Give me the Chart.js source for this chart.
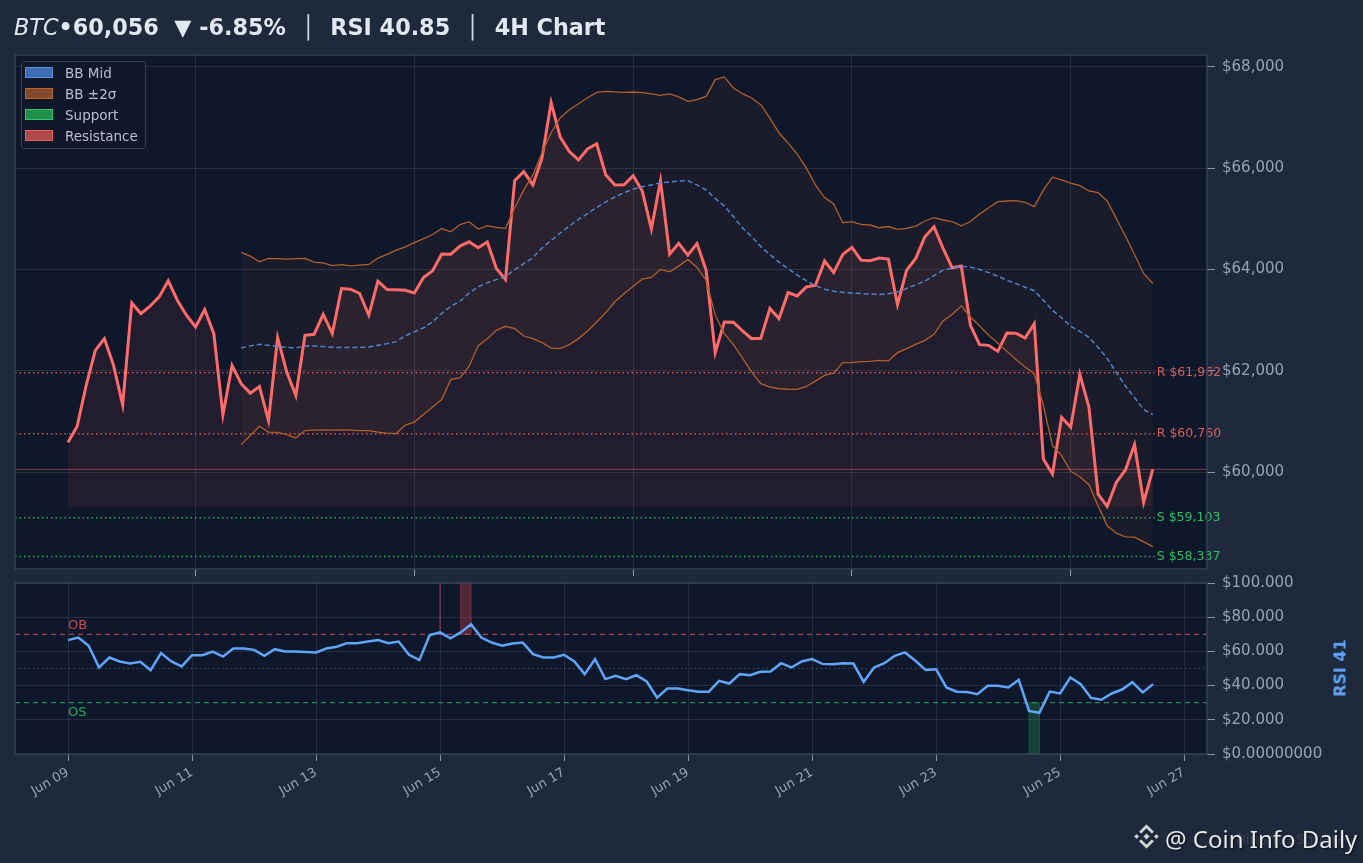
<!DOCTYPE html>
<html>
<head>
<meta charset="utf-8">
<script src="https://cdn.jsdelivr.net/npm/chart.js@4.4.1/dist/chart.umd.min.js"></script>
<style>
  html, body { margin: 0; padding: 0; background: #1e293b; width: 1363px; height: 863px; overflow: hidden; font-family: "DejaVu Sans", sans-serif; }
  #priceWrap { position: absolute; left: 0; top: 0; width: 1363px; height: 585px; }
  #rsiWrap { position: absolute; left: 0; top: 567px; width: 1363px; height: 296px; }
  #title { position: absolute; left: 14px; top: 16px; font-size: 22.3px; line-height: 22px; font-weight: bold; color: #e2e8f0; white-space: pre; }
  #title .sym { font-style: italic; font-weight: normal; }
  #title .sep { font-weight: normal; color: #cbd5e1; }
  #legend { position: absolute; left: 21px; top: 61px; width: 123px; height: 86px; border: 1.5px solid #334155; border-radius: 3px; background: rgba(15, 23, 42, 0.85); }
  .lg-item { position: absolute; left: 3px; height: 14px; font-size: 13.5px; line-height: 14px; color: #b6c0ce; white-space: nowrap; }
  .lg-sw { position: absolute; left: 0; top: 1px; width: 26px; height: 9px; border: 1.5px solid; }
  .lg-tx { position: absolute; left: 40px; top: 0; }
  #rsiLabel { position: absolute; left: 1340px; top: 668px; transform: translate(-50%, -50%) rotate(-90deg); font-size: 16px; font-weight: bold; color: #60a5fa; white-space: nowrap; }
  #wmark { position: absolute; left: 1165px; top: 827px; font-family: "Noto Sans", sans-serif; font-size: 24px; line-height: 24px; color: #e5e7eb; white-space: nowrap; text-shadow: 1px 1px 2px rgba(0,0,0,0.7); }
  #wmark2 { position: absolute; left: 1236px; top: 831px; font-family: "Noto Sans", sans-serif; font-size: 15px; line-height: 15px; color: rgba(148,163,184,0.18); white-space: nowrap; }
  #logo { position: absolute; left: 1131px; top: 821px; width: 31px; height: 31px; }
</style>
</head>
<body>
<div id="priceWrap"><canvas id="priceChart"></canvas></div>
<div id="rsiWrap"><canvas id="rsiChart"></canvas></div>
<div id="title"><span class="sym">BTC</span>•60,056  ▼ -6.85%  <span class="sep">│</span>  RSI 40.85  <span class="sep">│</span>  4H Chart</div>
<div id="legend"></div>
<div id="rsiLabel">RSI 41</div>
<div id="wmark2">Binance Square</div>
<svg id="logo" viewBox="0 0 32 32">
  <g fill="#d4d8de" stroke="#1a2230" stroke-width="0.8">
    <path d="M16 3 L24 11 L21.5 13.5 L16 8 L10.5 13.5 L8 11 Z"/>
    <path d="M16 29 L24 21 L21.5 18.5 L16 24 L10.5 18.5 L8 21 Z"/>
    <path d="M16 12.5 L19.5 16 L16 19.5 L12.5 16 Z"/>
    <path d="M3 16 L5.8 13.2 L8.6 16 L5.8 18.8 Z"/>
    <path d="M23.4 16 L26.2 13.2 L29 16 L26.2 18.8 Z"/>
  </g>
</svg>
<div id="wmark">@ Coin Info Daily</div>

<script>
// ---------- DATA ----------
// price closes, one value per bar
const prices = [
  60590, 60900, 61711, 62403, 62635, 62107, 61329, 63339, 63129, 63274,
  63458, 63774, 63392, 63096, 62864, 63208, 62734, 61131, 62107, 61745,
  61559, 61691, 61019, 62654, 61974, 61513, 62700, 62720, 63115, 62734,
  63624, 63610, 63525, 63096, 63768, 63604, 63600, 63590, 63537, 63841,
  63972, 64302, 64300, 64460, 64545, 64427, 64540, 64019, 63802, 65752,
  65930, 65667, 66195, 67295, 66610, 66326, 66161, 66379, 66478, 65865,
  65667, 65670, 65851, 65548, 64797, 65752, 64302, 64514, 64282, 64510,
  63986, 62358, 62963, 62960, 62785, 62635, 62640, 63228, 63030, 63545,
  63477, 63655, 63689, 64164, 63940, 64296, 64435, 64183, 64170, 64223,
  64203, 63307, 63986, 64217, 64644, 64842, 64415, 64031, 64065, 62898,
  62516, 62502, 62383, 62745, 62740, 62647, 62931, 60261, 59964, 61084,
  60886, 61929, 61282, 59569, 59324, 59798, 60044, 60544, 59403, 60056
];

// Bollinger bands start at bar 19 (20-bar window)
const bbStart = 19;
const bbUpper = [
  64336, 64263, 64150, 64217, 64213, 64203, 64213, 64217, 64144, 64130,
  64075, 64094, 64071, 64085, 64098, 64223, 64296, 64381, 64445, 64530,
  64609, 64688, 64807, 64743, 64886, 64941, 64797, 64862, 64830, 64810,
  65212, 65568, 65865, 66300, 66696, 66992, 67150, 67269, 67388, 67493,
  67513, 67501, 67493, 67500, 67487, 67461, 67433, 67461, 67402, 67315,
  67348, 67414, 67744, 67797, 67580, 67467, 67382, 67249, 66986, 66696,
  66492, 66274, 65997, 65667, 65416, 65291, 64921, 64941, 64890, 64876,
  64822, 64846, 64791, 64810, 64856, 64955, 65020, 64975, 64941, 64862,
  64945, 65093, 65218, 65337, 65350, 65356, 65325, 65238, 65568, 65819,
  65766, 65701, 65653, 65548, 65515, 65350, 65008, 64658, 64296, 63920,
  63723
];
const bbMid = [
  62449, 62492, 62522, 62502, 62482, 62463, 62453, 62492, 62490, 62478,
  62463, 62459, 62457, 62463, 62469, 62502, 62536, 62575, 62690, 62769,
  62848, 62967, 63135, 63274, 63372, 63531, 63655, 63738, 63798, 63857,
  63996, 64114, 64233, 64421, 64573, 64718, 64856, 64985, 65103, 65222,
  65331, 65430, 65515, 65582, 65631, 65667, 65707, 65726, 65742, 65750,
  65667, 65568, 65400, 65252, 65044, 64816, 64648, 64451, 64292, 64144,
  64015, 63887, 63778, 63679, 63610, 63570, 63545, 63535, 63525, 63515,
  63507, 63521, 63556, 63624, 63699, 63768, 63877, 63986, 64025, 64061,
  64045, 64000, 63936, 63867, 63788, 63719, 63649, 63580, 63392, 63194,
  63046, 62878, 62779, 62660, 62463, 62245, 61968, 61701, 61474, 61236,
  61137
];
const bbLower = [
  60544, 60722, 60906, 60791, 60787, 60742, 60673, 60821, 60831, 60835,
  60831, 60835, 60831, 60821, 60820, 60791, 60771, 60762, 60930, 60989,
  61137, 61286, 61434, 61830, 61859, 62087, 62492, 62631, 62799, 62878,
  62832, 62686, 62635, 62556, 62449, 62437, 62516, 62635, 62785, 62963,
  63149, 63363, 63521, 63669, 63808, 63841, 64000, 63952, 64065, 64197,
  64039, 63788, 63096, 62734, 62516, 62251, 61974, 61745, 61677, 61646,
  61636, 61632, 61691, 61796, 61909, 61954, 62160, 62160, 62180, 62186,
  62205, 62196, 62358, 62437, 62522, 62601, 62720, 62983, 63115, 63280,
  63062, 62884, 62700, 62548, 62383, 62225, 62073, 61942, 61315, 60524,
  60326, 60016, 59911, 59753, 59337, 58942, 58797, 58724, 58720, 58625,
  58532
];

const currentPrice = 60056;
const resistance = [61962, 60760];
const support = [59103, 58337];

const priceTicks = [60000, 62000, 64000, 66000, 68000];
const priceGridBars = [14, 38, 62, 86, 110];

// RSI, 4H bars from Jun 09 00:00
const rsi = [
  66.6, 68.1, 63.3, 50.6, 56.4, 54.1, 52.9, 53.9, 49.0, 59.0,
  54.1, 51.2, 57.8, 57.8, 59.9, 57.0, 61.7, 61.7, 60.9, 57.4,
  61.3, 59.9, 59.9, 59.7, 59.4, 61.7, 62.7, 64.8, 64.8, 65.8,
  66.6, 64.8, 65.8, 58.0, 54.9, 69.6, 71.1, 67.7, 71.1, 75.9,
  68.1, 65.2, 63.3, 64.6, 65.2, 58.4, 56.4, 56.4, 58.0, 54.1,
  46.7, 55.5, 43.8, 45.7, 43.8, 46.1, 42.4, 33.0, 38.3, 38.3,
  37.3, 36.4, 36.4, 42.8, 41.2, 46.7, 46.1, 48.1, 48.2, 53.1,
  50.6, 54.1, 55.5, 52.7, 52.5, 53.1, 52.9, 42.2, 50.6, 53.1,
  57.4, 59.4, 54.5, 49.2, 49.6, 38.9, 36.4, 36.2, 35.0, 39.9,
  39.9, 38.9, 43.4, 25.2, 24.1, 36.5, 35.4, 44.7, 40.8, 32.8,
  31.7, 35.4, 37.7, 42.0, 36.0, 40.85
];
const rsiOB = 70, rsiOS = 30;
const rsiTicks = [0, 20, 40, 60, 80, 100];
const rsiTickLabels = ["$0.00000000", "$20.000", "$40.000", "$60.000", "$80.000", "$100.000"];
const dayTicks = [0, 2, 4, 6, 8, 10, 12, 14, 16, 18];
const dayLabels = ["Jun 09", "Jun 11", "Jun 13", "Jun 15", "Jun 17", "Jun 19", "Jun 21", "Jun 23", "Jun 25", "Jun 27"];

const legendItems = [
  { label: "BB Mid", fill: "#3d6db3", stroke: "#5b8fd8" },
  { label: "BB ±2σ", fill: "#86482a", stroke: "#b8652f" },
  { label: "Support", fill: "#1f8f4e", stroke: "#34c46a" },
  { label: "Resistance", fill: "#b04848", stroke: "#e26464" },
];

// ---------- STYLE ----------
const FONT = "DejaVu Sans";
const gridColor = "rgba(148,163,184,0.16)";
const plotBg = "#0f172a";
const tickText = "#94a3b8";

// ---------- LEGEND ----------
const legendEl = document.getElementById("legend");
legendItems.forEach((it, i) => {
  const row = document.createElement("div");
  row.className = "lg-item";
  row.style.top = (4 + i * 21) + "px";
  row.innerHTML = `<span class="lg-sw" style="background:${it.fill};border-color:${it.stroke}"></span><span class="lg-tx">${it.label}</span>`;
  legendEl.appendChild(row);
});

// ---------- PLUGINS ----------
const panelPlugin = {
  id: "panel",
  beforeDraw(chart) {
    const { ctx, chartArea: a } = chart;
    ctx.save();
    ctx.fillStyle = plotBg;
    ctx.fillRect(a.left, a.top, a.right - a.left, a.bottom - a.top);
    ctx.restore();
  },
  afterDraw(chart) {
    const { ctx, chartArea: a } = chart;
    ctx.save();
    ctx.strokeStyle = "#334155";
    ctx.lineWidth = 1.5;
    ctx.strokeRect(a.left, a.top, a.right - a.left, a.bottom - a.top);
    ctx.restore();
  },
};

function hLine(ctx, y, x0, x1, color, width, dash) {
  ctx.save();
  ctx.strokeStyle = color;
  ctx.lineWidth = width;
  ctx.setLineDash(dash);
  ctx.beginPath();
  ctx.moveTo(x0, y);
  ctx.lineTo(x1, y);
  ctx.stroke();
  ctx.restore();
}

const levelsPlugin = {
  id: "levels",
  beforeDatasetsDraw(chart) {
    const { ctx, chartArea: a, scales } = chart;
    const xEnd = scales.x.getPixelForValue(prices.length - 1);
    hLine(ctx, scales.y.getPixelForValue(currentPrice), a.left, a.right, "rgba(255,107,107,0.45)", 1, []);
    resistance.forEach((v) => hLine(ctx, scales.y.getPixelForValue(v), a.left, xEnd + 2, "rgba(240,100,100,0.85)", 1.5, [1.5, 3]));
    support.forEach((v) => hLine(ctx, scales.y.getPixelForValue(v), a.left, xEnd + 2, "rgba(52,196,106,0.85)", 1.5, [1.5, 3]));
  },
  afterDatasetsDraw(chart) {
    const { ctx, scales } = chart;
    const x = scales.x.getPixelForValue(prices.length - 1) + 4;
    ctx.save();
    ctx.font = `12.5px "${FONT}"`;
    ctx.textBaseline = "middle";
    ctx.textAlign = "left";
    ctx.fillStyle = "rgba(240,100,100,0.9)";
    resistance.forEach((v) => ctx.fillText("R $" + v.toLocaleString("en-US"), x, scales.y.getPixelForValue(v)));
    ctx.fillStyle = "rgba(52,196,106,0.95)";
    support.forEach((v) => ctx.fillText("S $" + v.toLocaleString("en-US"), x, scales.y.getPixelForValue(v)));
    ctx.restore();
  },
};

// shade runs of bars beyond a threshold (from threshold to the panel edge)
function shadeRuns(chart, test, yFrom, yTo, fill, stroke) {
  const { ctx, scales } = chart;
  const top = scales.y.getPixelForValue(yTo);
  const bot = scales.y.getPixelForValue(yFrom);
  let i = 0;
  while (i < rsi.length) {
    if (!test(rsi[i])) { i++; continue; }
    let j = i;
    while (j + 1 < rsi.length && test(rsi[j + 1])) j++;
    const x0 = scales.x.getPixelForValue(i / 6);
    const x1 = scales.x.getPixelForValue(j / 6);
    ctx.save();
    ctx.fillStyle = fill;
    ctx.strokeStyle = stroke;
    ctx.lineWidth = 1;
    ctx.fillRect(x0, Math.min(top, bot), x1 - x0, Math.abs(bot - top));
    ctx.strokeRect(x0, Math.min(top, bot), x1 - x0, Math.abs(bot - top));
    ctx.restore();
    i = j + 1;
  }
}

const rsiPlugin = {
  id: "rsiLevels",
  beforeDatasetsDraw(chart) {
    const { ctx, chartArea: a, scales } = chart;
    shadeRuns(chart, (v) => v > rsiOB, rsiOB, 100, "rgba(200,70,80,0.35)", "rgba(200,70,80,0.45)");
    shadeRuns(chart, (v) => v < rsiOS, rsiOS, 0, "rgba(34,160,90,0.3)", "rgba(34,160,90,0.45)");
    hLine(ctx, scales.y.getPixelForValue(50), a.left, a.right, "rgba(148,163,184,0.4)", 1, [1.5, 3]);
    hLine(ctx, scales.y.getPixelForValue(rsiOB), a.left, a.right, "rgba(220,80,90,0.75)", 1.3, [5, 4]);
    hLine(ctx, scales.y.getPixelForValue(rsiOS), a.left, a.right, "rgba(40,180,100,0.75)", 1.3, [5, 4]);
    const x = scales.x.getPixelForValue(0);
    ctx.save();
    ctx.font = `13px "${FONT}"`;
    ctx.textAlign = "left";
    ctx.fillStyle = "rgba(220,80,90,0.9)";
    ctx.textBaseline = "bottom";
    ctx.fillText("OB", x, scales.y.getPixelForValue(rsiOB) - 2);
    ctx.fillStyle = "rgba(40,180,100,0.95)";
    ctx.textBaseline = "top";
    ctx.fillText("OS", x, scales.y.getPixelForValue(rsiOS) + 3);
    ctx.restore();
  },
};

// ---------- PRICE CHART ----------
const bbPoints = (arr) => arr.map((v, i) => ({ x: bbStart + i, y: v }));

new Chart(document.getElementById("priceChart"), {
  type: "line",
  data: {
    datasets: [
      { label: "BB Upper", data: bbPoints(bbUpper), borderColor: "#b0602c", borderWidth: 1.3, pointRadius: 0, fill: 2, backgroundColor: "rgba(205,120,60,0.06)" },
      { label: "BB Mid", data: bbPoints(bbMid), borderColor: "#4a86d4", borderWidth: 1.5, borderDash: [5, 3], pointRadius: 0, fill: false },
      { label: "BB Lower", data: bbPoints(bbLower), borderColor: "#b0602c", borderWidth: 1.3, pointRadius: 0, fill: false },
      { label: "Price", data: prices.map((v, i) => ({ x: i, y: v })), borderColor: "#ff6b6b", borderWidth: 3, pointRadius: 0, fill: { value: Math.min(...prices) }, backgroundColor: "rgba(255,107,107,0.08)" },
    ],
  },
  options: {
    responsive: true,
    maintainAspectRatio: false,
    animation: false,
    layout: { padding: { left: 15, top: 55, right: 0, bottom: 0 } },
    plugins: { legend: { display: false }, tooltip: { enabled: false } },
    scales: {
      x: {
        type: "linear", min: -5.81, max: 124.95,
        afterBuildTicks: (s) => { s.ticks = priceGridBars.map((v) => ({ value: v })); },
        ticks: { display: false },
        grid: { color: gridColor, tickColor: "#8a96aa", tickLength: 7 },
        border: { display: false },
        afterFit: (s) => { s.height = 12; },
      },
      y: {
        position: "right", min: 58090, max: 68230,
        afterBuildTicks: (s) => { s.ticks = priceTicks.map((v) => ({ value: v })); },
        ticks: { color: tickText, font: { family: FONT, size: 15 }, padding: 7, callback: (v) => "$" + v.toLocaleString("en-US") },
        grid: { color: gridColor, tickColor: "#8a96aa", tickLength: 8 },
        border: { display: false },
        afterFit: (s) => { s.width = 156; },
      },
    },
  },
  plugins: [panelPlugin, levelsPlugin],
});

// ---------- RSI CHART ----------
new Chart(document.getElementById("rsiChart"), {
  type: "line",
  data: {
    datasets: [
      { label: "RSI", data: rsi.map((v, i) => ({ x: i / 6, y: v })), borderColor: "#60a5fa", borderWidth: 2.5, pointRadius: 0, fill: false },
    ],
  },
  options: {
    responsive: true,
    maintainAspectRatio: false,
    animation: false,
    layout: { padding: { left: 15, top: 10, right: 0, bottom: 0 } },
    plugins: { legend: { display: false }, tooltip: { enabled: false } },
    scales: {
      x: {
        type: "linear", min: -0.855, max: 18.37,
        afterBuildTicks: (s) => { s.ticks = dayTicks.map((v) => ({ value: v })); },
        ticks: { color: tickText, font: { family: FONT, size: 13 }, minRotation: 30, maxRotation: 30, autoSkip: false, padding: 4, callback: (v, i) => dayLabels[i] },
        grid: { color: gridColor, tickColor: "#8a96aa", tickLength: 7 },
        border: { display: false },
        afterFit: (s) => { s.height = 109; },
      },
      y: {
        position: "right", min: 0, max: 100,
        afterBuildTicks: (s) => { s.ticks = rsiTicks.map((v) => ({ value: v })); },
        ticks: { color: tickText, font: { family: FONT, size: 15 }, padding: 7, callback: (v, i) => rsiTickLabels[i] },
        grid: { color: gridColor, tickColor: "#8a96aa", tickLength: 8 },
        border: { display: false },
        afterFit: (s) => { s.width = 156; },
      },
    },
  },
  plugins: [panelPlugin, rsiPlugin],
});
</script>
</body>
</html>
